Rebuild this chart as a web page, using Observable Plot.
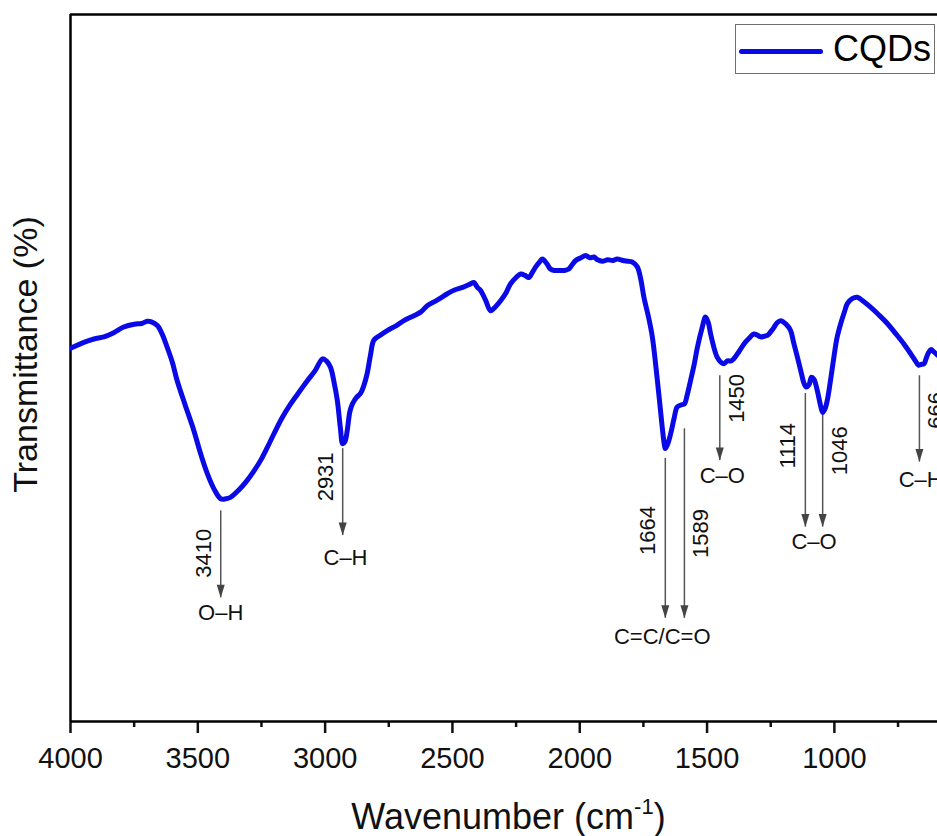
<!DOCTYPE html>
<html><head><meta charset="utf-8">
<script src="https://cdn.jsdelivr.net/npm/d3@7"></script>
<script src="https://cdn.jsdelivr.net/npm/@observablehq/plot@0.6"></script>
<style>
html,body{margin:0;padding:0;background:#fff;}
#wrap{position:relative;width:937px;height:836px;overflow:hidden;background:#fff;}
#legend{position:absolute;left:735px;top:24px;width:200px;height:50px;border:1px solid #707070;box-sizing:border-box;background:#fff;font-family:"Liberation Sans",Arial,sans-serif;}
#legend .swatch{position:absolute;left:3px;top:24px;width:84px;height:5px;border-radius:3px;background:#0a0ae6;}
#legend .lab{position:absolute;left:97px;top:4px;font-size:36px;line-height:40px;color:#000;}
</style></head>
<body><div id="wrap"><div id="legend"><div class="swatch"></div><div class="lab">CQDs</div></div></div>
<script>
// Spectrum (wavenumber in cm-1, transmittance in arbitrary %)
const wavenumbers = [4000,3950,3908,3869,3830,3791,3750,3720,3699,3680,3659,3640,3620,3600,3581,3550,3516,3490,3463,3435,3410,3390,3372,3340,3306,3280,3254,3228,3201,3170,3136,3100,3070,3040,3010,2995,2979,2965,2952,2940,2931,2922,2913,2903,2893,2878,2861,2848,2835,2822,2809,2785,2756,2720,2691,2651,2625,2599,2560,2520,2494,2460,2429,2416,2402,2390,2370,2350,2330,2311,2290,2272,2250,2232,2215,2200,2185,2173,2160,2147,2130,2115,2100,2088,2060,2043,2030,2016,1995,1977,1960,1944,1930,1911,1890,1870,1853,1830,1810,1794,1774,1760,1748,1730,1715,1695,1676,1668,1664,1655,1643,1630,1617,1600,1589,1578,1565,1550,1538,1520,1506,1495,1486,1470,1460,1445,1434,1420,1405,1395,1375,1355,1335,1316,1300,1290,1275,1263,1240,1225,1211,1190,1172,1160,1145,1130,1119,1110,1100,1090,1080,1067,1055,1046,1037,1028,1015,1002,990,975,960,949,930,910,885,858,825,792,760,727,700,680,670,660,648,640,630,620,610,595];
const transmittance = [52.8,53.6,54.1,54.4,55.0,55.8,56.2,56.3,56.6,56.5,56.0,54.8,52.9,50.8,48.2,44.8,41.2,38.0,35.1,32.8,31.5,31.5,31.7,32.7,34.1,35.4,36.9,38.7,40.7,42.9,44.9,46.7,48.2,49.6,51.3,51.0,50.1,48.0,45.4,41.5,39.3,39.6,41.2,43.8,44.9,45.8,46.4,47.5,49.2,51.8,53.9,54.6,55.3,56.0,56.7,57.4,57.9,58.8,59.6,60.5,61.0,61.4,61.9,62.1,61.4,61.0,59.6,58.1,58.7,59.5,60.6,61.9,62.8,63.3,63.1,62.8,63.6,64.3,64.9,65.4,64.8,64.0,63.8,63.8,63.8,64.0,64.6,65.2,65.6,65.9,65.6,65.7,65.3,65.1,65.3,65.2,65.4,65.2,65.1,65.0,64.3,62.5,60.0,57.2,54.4,48.2,41.6,39.2,38.6,39.2,40.7,42.8,44.5,44.8,44.9,46.2,48.2,50.6,52.9,55.6,57.2,56.4,54.8,52.5,51.5,50.8,50.6,51.0,51.0,51.3,52.3,53.4,54.2,54.8,54.6,54.4,54.5,54.6,55.6,56.4,56.7,56.2,55.3,53.6,51.5,49.3,47.8,47.3,47.6,48.7,48.4,46.8,44.8,43.7,44.2,45.4,48.3,51.5,54.2,56.3,58.0,59.1,59.8,60.0,59.4,58.6,57.5,56.3,54.9,53.4,52.0,50.9,50.4,50.5,50.6,51.3,52.2,52.6,52.3,51.8];

// Peak annotations
const peakWn      = [3410, 2931, 1664, 1589, 1450, 1114, 1046, 666];
const arrowTop    = [29.8, 38.6, 37.2, 41.4, 48.9, 46.4, 43.3, 48.9];
const arrowTip    = [17.5, 26.3, 14.6, 14.6, 36.9, 27.5, 27.5, 36.7];
const peakLabelY  = [23.8, 34.6, 27.0, 26.6, 45.7, 39.0, 38.3, 44.0];
const peakLabelSide = [-1, -1, -1, 1, 1, -1, 1, 1];

// Group (bond) labels
const groupLabels = ["O–H", "C–H", "C=C/C=O", "C–O", "C–O", "C–H"];
const groupWn     = [3410, 2920, 1676, 1440, 1080, 661];
const groupY      = [15.3, 23.1, 11.9, 34.8, 25.4, 34.1];

// Axis ticks
const majorTicks = [4000, 3500, 3000, 2500, 2000, 1500, 1000];
const minorTicks = [3750, 3250, 2750, 2250, 1750, 1250, 750];
const xTitle = "Wavenumber (cm-1)";
const yTitle = "Transmittance (%)";

const spectrum = wavenumbers.map((w, i) => ({w, t: transmittance[i]}));
const peaks = peakWn.map((w, i) => ({w, top: arrowTop[i], tip: arrowTip[i], ly: peakLabelY[i], side: peakLabelSide[i], label: String(w)}));
const groups = groupLabels.map((g, i) => ({g, w: groupWn[i], y: groupY[i]}));

const arrowHead = {draw(ctx) { ctx.moveTo(-4, -13); ctx.lineTo(4, -13); ctx.lineTo(0, 0); ctx.closePath(); }};
const font = '"Liberation Sans", Arial, Helvetica, sans-serif';

const chart = Plot.plot({
  width: 937, height: 836,
  marginLeft: 70, marginRight: 0, marginTop: 14, marginBottom: 115,
  x: {domain: [4000, 595]},
  y: {domain: [0, 100], axis: null},
  style: {fontFamily: font, background: "transparent", color: "#111"},
  marks: [
    Plot.axisX({ticks: majorTicks, tickFormat: d => String(d), tickSize: 12, tickPadding: 14, fontSize: 29, label: null, strokeWidth: 2.5, color: "#111"}),
    Plot.axisX({ticks: minorTicks, tickSize: 6, tickFormat: () => "", label: null, strokeWidth: 2.5, color: "#111"}),
    Plot.ruleY([0, 100], {stroke: "#000", strokeWidth: 2.5}),
    Plot.ruleX([4000], {stroke: "#000", strokeWidth: 2.5}),
    Plot.line(spectrum, {x: "w", y: "t", stroke: "#0a0ae6", strokeWidth: 5, curve: "catmull-rom", strokeLinejoin: "round", clip: true}),
    Plot.ruleX(peaks, {x: "w", y1: "top", y2: "tip", stroke: "#555", strokeWidth: 1.5}),
    Plot.dot(peaks, {x: "w", y: "tip", symbol: arrowHead, fill: "#444", stroke: "none", r: 5}),
    Plot.text(peaks.filter(d => d.side < 0), {x: "w", y: "ly", text: "label", rotate: -90, dx: -17, fontSize: 22, fill: "#111"}),
    Plot.text(peaks.filter(d => d.side > 0), {x: "w", y: "ly", text: "label", rotate: -90, dx: 17, fontSize: 22, fill: "#111"}),
    Plot.text(groups, {x: "w", y: "y", text: "g", fontSize: 22, fill: "#111"}),
    Plot.text([yTitle], {text: d => d, frameAnchor: "left", textAnchor: "middle", lineAnchor: "middle", rotate: -90, dx: -44, dy: -13.5, fontSize: 34, fill: "#111"}),
    Plot.text([xTitle], {text: d => d, frameAnchor: "bottom", textAnchor: "middle", lineAnchor: "bottom", dx: 4.5, dy: 107, fontSize: 36, fill: "#111"})
  ]
});

const wrap = document.getElementById("wrap");
wrap.insertBefore(chart, wrap.firstChild);

// superscript for cm-1
d3.select(chart).selectAll("text").filter(function() { return this.textContent === xTitle; })
  .each(function() {
    const t = d3.select(this);
    t.text(null);
    t.append("tspan").text("Wavenumber (cm");
    t.append("tspan").attr("font-size", "22px").attr("dy", "-15").text("-1");
    t.append("tspan").attr("dy", "15").text(")");
  });
</script></body></html>
